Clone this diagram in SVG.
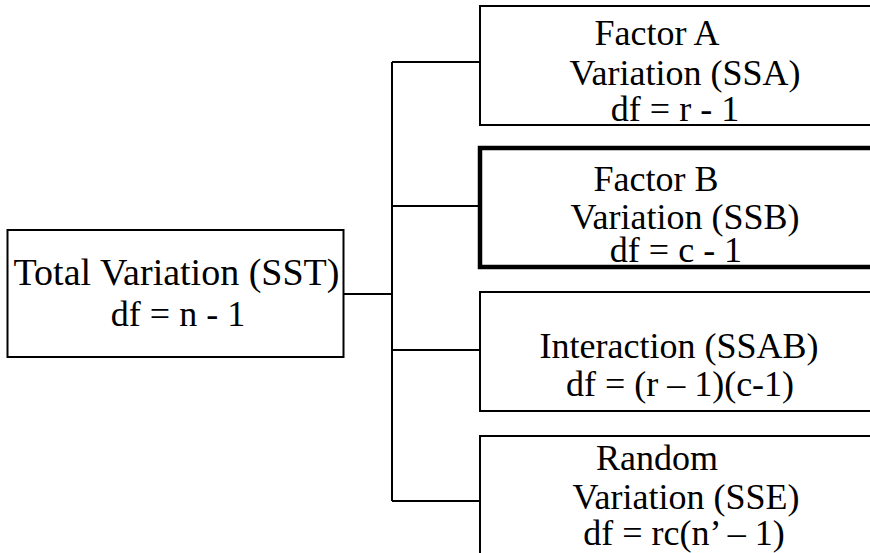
<svg xmlns="http://www.w3.org/2000/svg" width="870" height="553" viewBox="0 0 870 553">
  <style>
    .box { fill: #ffffff; stroke: #000000; stroke-width: 2; }
    .bold { stroke-width: 4.5; }
    .wire { fill: none; stroke: #000000; stroke-width: 2; }
    .label { font-size: 36px; fill: #000000; text-anchor: middle; }
    .big { font-size: 38px; }
  </style>
  <rect width="870" height="553" fill="#ffffff"/>

  <!-- connectors: trunk from the total box, spine, and one branch per component -->
  <g id="connectors">
    <path class="wire" d="M344 294 H392"/>
    <path class="wire" d="M392 62 V501"/>
    <path class="wire" d="M392 62 H480"/>
    <path class="wire" d="M392 206 H480"/>
    <path class="wire" d="M392 350 H480"/>
    <path class="wire" d="M392 501 H480"/>
  </g>

  <g font-family="'Liberation Serif', 'Times New Roman', Times, serif">
    <g id="total">
      <rect class="box" x="7.5" y="230" width="336" height="127"/>
      <text class="label big" x="176.5" y="285">Total Variation (SST)</text>
      <text class="label" x="178" y="326">df = n - 1</text>
    </g>

    <g id="factor-a">
      <rect class="box" x="480" y="6" width="420" height="119"/>
      <text class="label" x="657" y="45">Factor A</text>
      <text class="label" x="685" y="85">Variation (SSA)</text>
      <text class="label" x="675" y="121">df = r - 1</text>
    </g>

    <g id="factor-b">
      <rect class="box bold" x="480" y="148" width="420" height="119"/>
      <text class="label" x="656" y="191">Factor B</text>
      <text class="label" x="685" y="229">Variation (SSB)</text>
      <text class="label" x="676" y="262">df = c - 1</text>
    </g>

    <g id="interaction">
      <rect class="box" x="480" y="292" width="420" height="119"/>
      <text class="label" x="679" y="358">Interaction (SSAB)</text>
      <text class="label" x="680" y="396">df = (r – 1)(c-1)</text>
    </g>

    <g id="random">
      <rect class="box" x="480" y="436" width="420" height="150"/>
      <text class="label" x="657" y="470">Random</text>
      <text class="label" x="686" y="509">Variation (SSE)</text>
      <text class="label" x="684" y="545">df = rc(n’ – 1)</text>
    </g>
  </g>
</svg>
